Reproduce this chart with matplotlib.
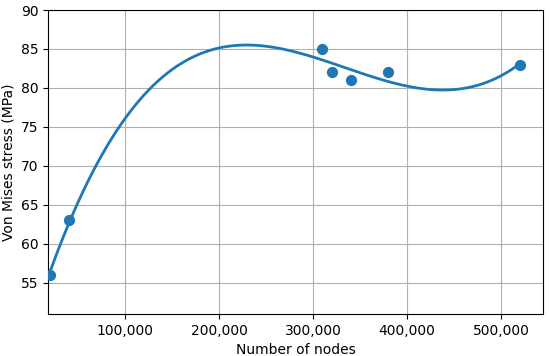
import numpy as np
import matplotlib
matplotlib.use('Agg')
import matplotlib.pyplot as plt
from matplotlib.ticker import FuncFormatter

nodes = [20000, 40000, 310000, 320000, 340000, 380000, 520000]
stress = [56, 63, 85, 82, 81, 82, 83]

# cubic trend through the points
coef = np.polyfit(nodes, stress, 3)
xs = np.linspace(min(nodes), max(nodes), 300)
ys = np.polyval(coef, xs)

fig = plt.figure(figsize=(5.5, 3.56), dpi=100)
ax = fig.add_axes([48/550, 1-314/356, (543-48)/550, (314-10)/356])
ax.plot(xs, ys, color='#1f77b4', lw=2)
ax.scatter(nodes, stress, color='#1f77b4', s=50, zorder=3)
ax.set_xlim(18000, 544700)
ax.set_ylim(51, 90)
ax.xaxis.set_major_formatter(FuncFormatter(lambda v, p: '{:,.0f}'.format(v)))
ax.grid(True, color='#b0b0b0')
ax.set_axisbelow(True)
ax.set_xlabel('Number of nodes')
ax.set_ylabel('Von Mises stress (MPa)')
fig.savefig('out.png', dpi=100)
